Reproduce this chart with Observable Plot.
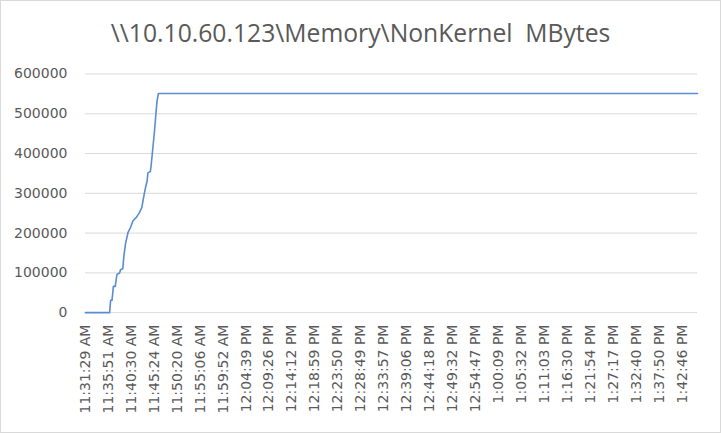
<!DOCTYPE html>
<html>
<head>
<meta charset="utf-8">
<script src="https://cdn.jsdelivr.net/npm/d3@7"></script>
<script src="https://cdn.jsdelivr.net/npm/@observablehq/plot@0.6"></script>
<style>
  html, body { margin: 0; padding: 0; background: #fff; }
  #frame { position: relative; width: 721px; height: 433px; box-sizing: border-box; border: 1px solid #d9d9d9; overflow: hidden; }
  #title { position: absolute; left: 0; top: 16px; width: 719px; text-align: center; font-family: "Open Sans", sans-serif; font-size: 24.7px; color: #595959; white-space: pre; line-height: 32px; }
  #chart { position: absolute; left: -1px; top: 59px; }
</style>
</head>
<body>
<div id="frame">
  <div id="title">\\10.10.60.123\Memory\NonKernel  MBytes</div>
  <div id="chart"></div>
</div>
<script>
// Category (time stamp) labels shown on the x axis, one every tick position
const timeLabels = ["11:31:29 AM","11:35:51 AM","11:40:30 AM","11:45:24 AM","11:50:20 AM","11:55:06 AM","11:59:52 AM","12:04:39 PM","12:09:26 PM","12:14:12 PM","12:18:59 PM","12:23:50 PM","12:28:49 PM","12:33:57 PM","12:39:06 PM","12:44:18 PM","12:49:32 PM","12:54:47 PM","1:00:09 PM","1:05:32 PM","1:11:03 PM","1:16:30 PM","1:21:54 PM","1:27:17 PM","1:32:40 PM","1:37:50 PM","1:42:46 PM"];
// Position along the category axis (in label-interval units) of each breakpoint of the line
const positions = [0, 1.055, 1.10, 1.16, 1.22, 1.30, 1.375, 1.49, 1.53, 1.63, 1.68, 1.75, 1.86, 1.97, 2.075, 2.22, 2.36, 2.46, 2.55, 2.62, 2.69, 2.725, 2.83, 2.87, 2.94, 3.01, 3.07, 3.12, 3.18, 26.67];
// NonKernel MBytes value at each breakpoint
const values = [0, 0, 31000, 31000, 66000, 66000, 96000, 99500, 108000, 110500, 144000, 174000, 202000, 214500, 231000, 239500, 252000, 264500, 294000, 314500, 331000, 352000, 354500, 373000, 414500, 456000, 498000, 531000, 551000, 551000];
const yTicks = [0, 100000, 200000, 300000, 400000, 500000, 600000];

const data = positions.map((p, i) => ({x: p, y: values[i]}));

const chart = Plot.plot({
  width: 721,
  height: 373,
  marginLeft: 85,
  marginRight: 23,
  marginTop: 13.5,
  marginBottom: 120.5,
  style: {fontFamily: "DejaVu Sans, sans-serif", fontSize: "14px", color: "#595959", background: "transparent"},
  x: {type: "linear", domain: [0, 26.67]},
  y: {domain: [0, 600000]},
  marks: [
    Plot.gridY(yTicks, {stroke: "#d9d9d9", strokeOpacity: 1, strokeWidth: 1}),
    Plot.line(data, {x: "x", y: "y", stroke: "#5b8bd3", strokeWidth: 1.6}),
    Plot.axisY(yTicks, {label: null, tickSize: 0, tickPadding: 18, tickFormat: d => String(d), fill: "#595959", fontSize: 14}),
    Plot.axisX(d3.range(timeLabels.length), {label: null, tickSize: 0, tickPadding: 12, tickRotate: -90, tickFormat: i => timeLabels[i], fill: "#595959", fontSize: 14})
  ]
});
document.getElementById("chart").appendChild(chart);
</script>
</body>
</html>
